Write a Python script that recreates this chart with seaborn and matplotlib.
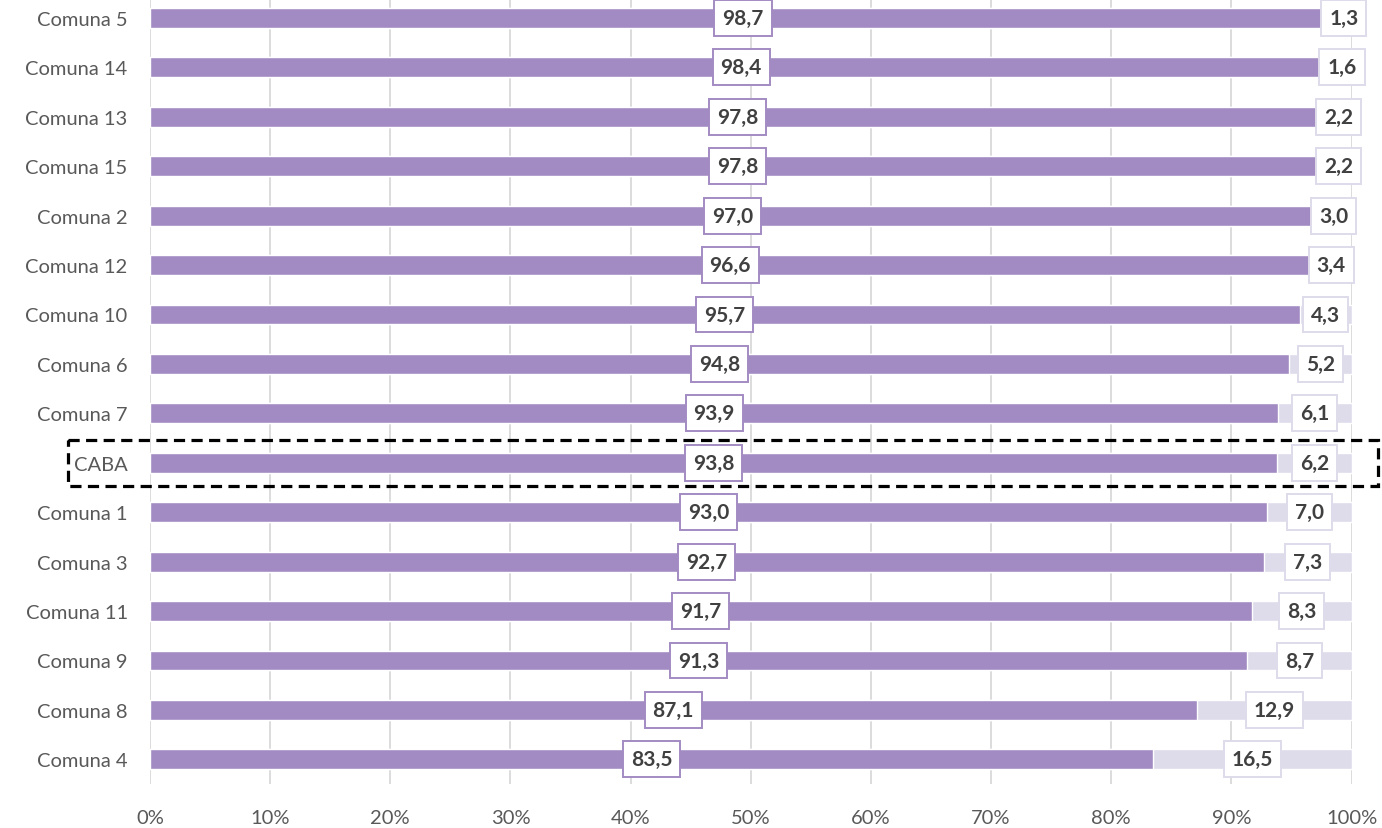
import numpy as np
import pandas as pd
import seaborn as sns
import matplotlib.pyplot as plt
from matplotlib.patches import Rectangle
import matplotlib.transforms as mtransforms

# data
comunas = ['Comuna 5', 'Comuna 14', 'Comuna 13', 'Comuna 15', 'Comuna 2', 'Comuna 12',
           'Comuna 10', 'Comuna 6', 'Comuna 7', 'CABA', 'Comuna 1', 'Comuna 3',
           'Comuna 11', 'Comuna 9', 'Comuna 8', 'Comuna 4']
si = [98.7, 98.4, 97.8, 97.8, 97.0, 96.6, 95.7, 94.8, 93.9, 93.8, 93.0, 92.7, 91.7, 91.3, 87.1, 83.5]
no = [1.3, 1.6, 2.2, 2.2, 3.0, 3.4, 4.3, 5.2, 6.1, 6.2, 7.0, 7.3, 8.3, 8.7, 12.9, 16.5]

df = pd.DataFrame({'comuna': comunas, 'si': si, 'no': no})
df['total'] = df['si'] + df['no']

purple = '#A28BC2'
lilac = '#DEDBEA'
text_col = '#404040'

sns.set_theme(style='white')
plt.rcParams['font.family'] = ['Lato', 'DejaVu Sans']

fig, ax = plt.subplots(figsize=(13.82, 8.29), dpi=100)
fig.subplots_adjust(left=0.1085, right=0.978, top=1.007, bottom=0.053)

sns.barplot(data=df, x='total', y='comuna', color=lilac, width=0.4, saturation=1, ax=ax, orient='h')
sns.barplot(data=df, x='si', y='comuna', color=purple, width=0.4, saturation=1, ax=ax, orient='h')

ax.set_xlim(0, 100)
ax.set_xticks(np.arange(0, 101, 10))
ax.set_xticklabels([f'{t}%' for t in range(0, 101, 10)])
ax.set_xlabel('')
ax.set_ylabel('')
ax.xaxis.grid(True, color='#D9D9D9', linewidth=1.3)
ax.set_axisbelow(True)
for s in ax.spines.values():
    s.set_visible(False)
ax.tick_params(axis='x', labelsize=14.5, labelcolor='#595959', pad=18, length=0)
ax.tick_params(axis='y', labelsize=14.5, labelcolor='#595959', pad=16, length=0)

# value labels
for i, (a, b) in enumerate(zip(df['si'], df['no'])):
    ax.text(a / 2, i, f'{a:.1f}'.replace('.', ','), ha='center', va='center',
            fontsize=15, fontweight='bold', color=text_col,
            bbox=dict(boxstyle='square,pad=0.38', fc='white', ec=purple, lw=1.4))
    ax.text(a + b / 2, i, f'{b:.1f}'.replace('.', ','), ha='center', va='center',
            fontsize=15, fontweight='bold', color=text_col,
            bbox=dict(boxstyle='square,pad=0.38', fc='white', ec=lilac, lw=1.4))

# dashed box around CABA row
k = comunas.index('CABA')
trans = mtransforms.blended_transform_factory(ax.transAxes, ax.transData)
ax.add_patch(Rectangle((-0.068, k - 0.47), 1.0896, 0.94, transform=trans, fill=False,
                       ec='black', lw=2.3, ls=(0, (3.5, 2)), clip_on=False, zorder=5))

plt.savefig('out.png', dpi=100)
